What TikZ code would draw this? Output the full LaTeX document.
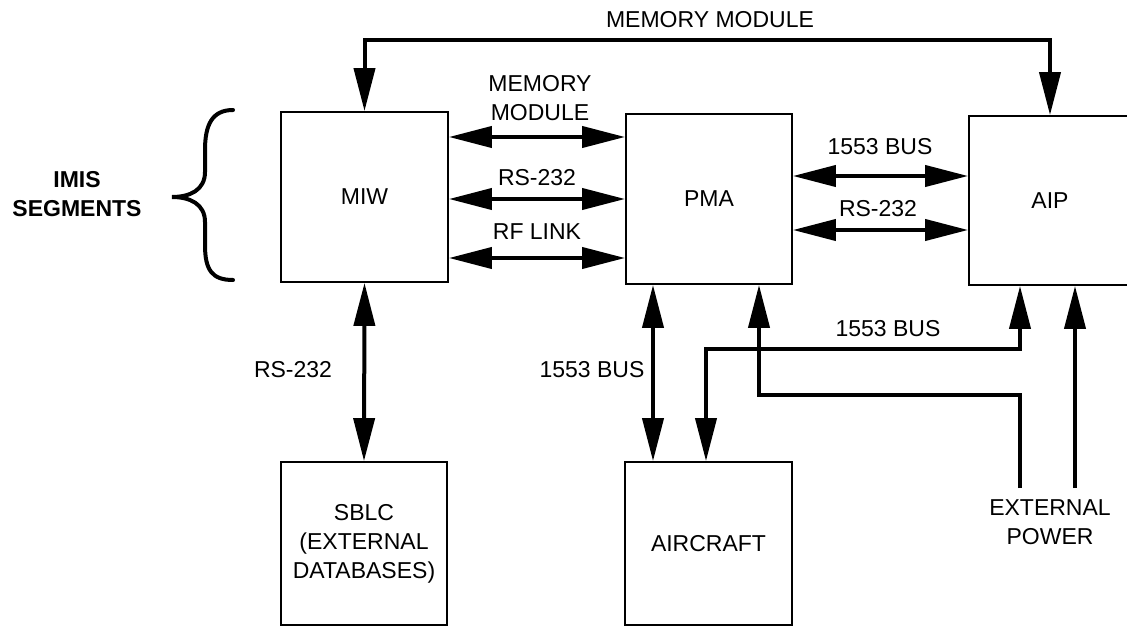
\documentclass[tikz,border=0pt]{standalone}
\usepackage{fontspec}
\setmainfont{Liberation Sans}
\usetikzlibrary{arrows.meta,calc}
\begin{document}
\begin{tikzpicture}[x=1pt,y=-1pt,
  box/.style={draw,line width=1.8pt,inner sep=0pt,font=\fontsize{23}{29}\selectfont,align=center},
  conn/.style={line width=4pt},
  lbl/.style={font=\fontsize{23}{29}\selectfont,align=center,inner sep=0pt},
  >={Triangle[length=43pt,width=21pt]}]
\useasboundingbox (0,0) rectangle (1127,626);
\clip (0,0) rectangle (1127,626);
% boxes
\node[box,minimum width=167pt,minimum height=170pt] (miw) at (364.5,197) {MIW};
\node[box,minimum width=166pt,minimum height=170pt] (pma) at (709,199) {PMA};
\node[box,minimum width=162pt,minimum height=169pt] (aip) at (1050,200.5) {AIP};
\node[box,minimum width=166pt,minimum height=163pt] (sblc) at (364,543.5) {SBLC\\(EXTERNAL\\DATABASES)};
\node[box,minimum width=167pt,minimum height=163pt] (air) at (708.5,543.5) {AIRCRAFT};
% free ends
\coordinate (ep1) at (1020,488);
\coordinate (ep2) at (1075,488);
% connectors
\draw[conn,<->] (miw.north) -- (miw.north |- 0,40) -| (aip.north);
\draw[conn,<->] (miw.east |- 0,137) -- (pma.west |- 0,137);
\draw[conn,<->] (miw.east |- 0,199) -- (pma.west |- 0,199);
\draw[conn,<->] (miw.east |- 0,258) -- (pma.west |- 0,258);
\draw[conn,<->] (pma.east |- 0,176) -- (aip.west |- 0,176);
\draw[conn,<->] (pma.east |- 0,230) -- (aip.west |- 0,230);
\draw[conn,<->] (miw.south) -- (sblc.north);
\draw[conn,<->] (pma.south -| 653,0) -- (air.north -| 653,0);
\draw[conn,<->] (aip.south -| ep1) |- (706,349) -- (air.north -| 706,0);
\draw[conn,->] (ep1) |- (759,395) -- (pma.south -| 759,0);
\draw[conn,->] (ep2) -- (aip.south -| ep2);
% brace
\draw[conn,line cap=round] (233,110) .. controls (212,110) and (205,125) .. (205,150)
  -- (205,172) .. controls (205,190) and (190,197) .. (172,197)
  .. controls (190,197) and (205,204) .. (205,222)
  -- (205,245) .. controls (205,270) and (212,280) .. (233,280);
% labels
\node[lbl] (tmm) at (710,20) {MEMORY MODULE};
\node[lbl] (mm) at (540,98) {MEMORY\\MODULE};
\node[lbl] (rs1) at (537,178) {RS-232};
\node[lbl] (rf) at (537,232) {RF LINK};
\node[lbl] (b1) at (880,147) {1553 BUS};
\node[lbl] (rs2) at (878,209) {RS-232};
\node[lbl] (b2) at (888,329) {1553 BUS};
\node[lbl] (b3) at (592,370) {1553 BUS};
\node[lbl] (rs3) at (293,370) {RS-232};
\node[lbl] (ep) at (1050,522) {EXTERNAL\\POWER};
\node[lbl,font=\fontsize{23}{29}\selectfont\bfseries] (imis) at (77,194) {IMIS\\SEGMENTS};
\end{tikzpicture}
\end{document}
